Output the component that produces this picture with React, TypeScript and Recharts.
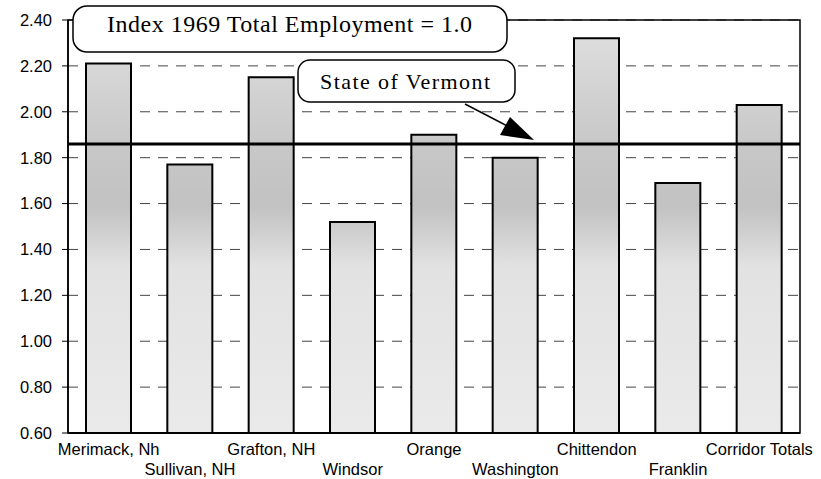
import { Bar, BarChart, CartesianGrid, ReferenceArea, ReferenceLine, XAxis, YAxis } from "recharts";

const counties = [
  "Merimack, Nh",
  "Sullivan, NH",
  "Grafton, NH",
  "Windsor",
  "Orange",
  "Washington",
  "Chittendon",
  "Franklin",
  "Corridor Totals",
];
const growthIndex = [2.21, 1.77, 2.15, 1.52, 1.9, 1.8, 2.32, 1.69, 2.03];
const vermontIndex = 1.86;
const yTicks = [0.6, 0.8, 1.0, 1.2, 1.4, 1.6, 1.8, 2.0, 2.2, 2.4];

const data = counties.map((name, i) => ({ name, index: growthIndex[i] }));

const sans = "'Liberation Sans', Arial, sans-serif";
const serif = "'Liberation Serif', 'Times New Roman', serif";

function StaggeredTick(props: any) {
  const { x, y, payload, index } = props;
  const dy = index % 2 === 0 ? 14 : 34;
  return (
    <text x={x} y={y} dy={dy} textAnchor="middle" fontFamily={sans} fontSize={16.5} fill="#000">
      {payload.value}
    </text>
  );
}

export default function App() {
  return (
    <div style={{ position: "relative", width: 821, height: 479, background: "#fff" }}>
      <style>{`body{margin:0}`}</style>
      <BarChart width={821} height={479} data={data} margin={{ top: 20, right: 21, left: 0, bottom: 0 }}>
        <defs>
          <linearGradient id="stipple" gradientUnits="userSpaceOnUse" x1="0" y1="20" x2="0" y2="433">
            <stop offset="0%" stopColor="#e0e0e0" />
            <stop offset="30%" stopColor="#c8c8c8" />
            <stop offset="45%" stopColor="#c2c2c2" />
            <stop offset="60%" stopColor="#e2e2e2" />
            <stop offset="100%" stopColor="#eaeaea" />
          </linearGradient>
        </defs>
        <CartesianGrid vertical={false} stroke="#444" strokeDasharray="10 8" />
        <ReferenceArea y1={0.6} y2={2.4} fill="none" stroke="#000" strokeWidth={1.5} />
        <XAxis
          dataKey="name"
          interval={0}
          height={46}
          axisLine={{ stroke: "#000", strokeWidth: 2 }}
          tickLine={false}
          tick={<StaggeredTick />}
        />
        <YAxis
          domain={[0.6, 2.4]}
          ticks={yTicks}
          width={68}
          tickSize={6}
          tickMargin={10}
          axisLine={{ stroke: "#000", strokeWidth: 1.5 }}
          tickLine={{ stroke: "#000" }}
          tick={{ fill: "#000", fontSize: 16.5, fontFamily: sans }}
          tickFormatter={(v: number) => v.toFixed(2)}
          allowDataOverflow
        />
        <Bar dataKey="index" barSize={45} fill="url(#stipple)" stroke="#000" strokeWidth={2} isAnimationActive={false} />
        <ReferenceLine y={vermontIndex} stroke="#000" strokeWidth={3} />
      </BarChart>
      <svg width={821} height={479} style={{ position: "absolute", left: 0, top: 0, pointerEvents: "none" }}>
        <rect x={73} y={6} width={434} height={46} rx={14} fill="#fff" stroke="#000" strokeWidth={1.5} />
        <text x={107} y={32} textLength={365} lengthAdjust="spacing" fontFamily={serif} fontSize={24} fill="#000">
          Index 1969 Total Employment = 1.0
        </text>
        <rect x={298} y={60} width={217} height={42} rx={12} fill="#fff" stroke="#000" strokeWidth={1.5} />
        <text x={320} y={89} textLength={170} lengthAdjust="spacing" fontFamily={serif} fontSize={22} fill="#000">
          State of Vermont
        </text>
        <line x1={465} y1={104} x2={515} y2={130} stroke="#000" strokeWidth={1.5} />
        <polygon points="510,117 500,135 534,140" fill="#000" />
      </svg>
    </div>
  );
}
